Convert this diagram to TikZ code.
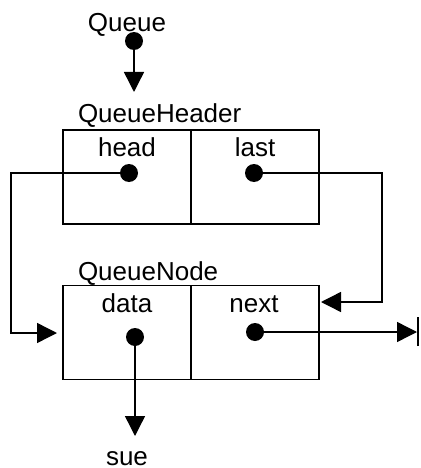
\documentclass[tikz,border=0pt]{standalone}
\usepackage{fontspec}
\setmainfont{Liberation Sans}
\usetikzlibrary{arrows.meta}
\begin{document}
\begin{tikzpicture}[x=1pt,y=-1pt,
  every node/.style={inner sep=0pt,outer sep=0pt},
  lbl/.style={font=\fontsize{26}{30}\selectfont,anchor=base},
  cell/.style={draw,line width=1.9pt,minimum width=128pt,minimum height=94pt},
  dot/.style={circle,fill=black,minimum size=18pt},
  ptr/.style={line width=1.4pt,-{Triangle[length=20pt,width=20pt]}}]
\useasboundingbox (0,0) rectangle (420,468);

% header record
\node[cell] (headcell) at (127,177) {};
\node[cell] (lastcell) at (255,177) {};
\node[lbl,anchor=base west] (hdrname) at (78,123) {QueueHeader};
\node[lbl] (headlbl) at (127,156) {head};
\node[lbl] (lastlbl) at (255,156) {last};

% node record
\node[cell] (datacell) at (127,332.5) {};
\node[cell] (nextcell) at (255,332.5) {};
\node[lbl,anchor=base west] (nodename) at (78,280) {QueueNode};
\node[lbl] (datalbl) at (127,312) {data};
\node[lbl] (nextlbl) at (254,312) {next};

% outside labels
\node[lbl] (queuelbl) at (127,32) {Queue};
\node[lbl] (suelbl) at (127,465) {sue};

% pointer dots
\node[dot] (queuedot) at (134,41) {};
\node[dot] (headdot) at (129,173) {};
\node[dot] (lastdot) at (254,173) {};
\node[dot] (datadot) at (135,337) {};
\node[dot] (nextdot) at (255,332) {};

% arrow targets
\coordinate (hdrin) at (134,92);
\coordinate (nodein) at (57,333);
\coordinate (nodeinr) at (321,302);
\coordinate (suein) at (135,436);
\coordinate (nullend) at (417,332);

\draw[ptr] (queuedot.center) -- (hdrin);
\draw[ptr] (headdot.center) -- (11,173) -- (11,333) -- (nodein);
\draw[ptr] (lastdot.center) -- (382,173) -- (382,302) -- (nodeinr);
\draw[ptr] (datadot.center) -- (suein);
\draw[ptr] (nextdot.center) -- (nullend);

% null terminator bar
\draw[line width=1.5pt] ([yshift=-14pt]nullend) ++(1pt,0) -- ++(0,29pt);
\end{tikzpicture}
\end{document}
